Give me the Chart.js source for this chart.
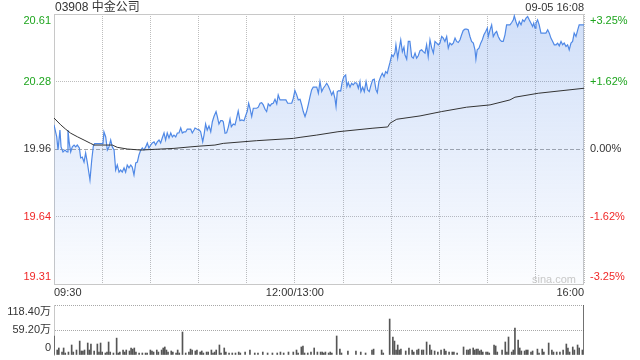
<!DOCTYPE html>
<html>
<head>
<meta charset="utf-8">
<script src="https://cdn.jsdelivr.net/npm/chart.js@4.4.0/dist/chart.umd.min.js"></script>
<style>
  html, body { margin: 0; padding: 0; background: #fff; }
  #wrap { position: relative; width: 640px; height: 360px; overflow: hidden;
          font-family: Arial, "Liberation Sans", "Noto Sans CJK SC", sans-serif; }
  .txt { position: absolute; line-height: 14px; color: #333; white-space: nowrap; }
  #priceBox { position: absolute; left: 0; top: 0; width: 640px; height: 300px; }
  #volBox { position: absolute; left: 0; top: 296px; width: 640px; height: 64px; }
</style>
</head>
<body>
<div id="wrap">
  <div id="priceBox"><canvas id="priceChart" width="640" height="300"></canvas></div>
  <div id="volBox"><canvas id="volChart" width="640" height="64"></canvas></div>
  <div class="txt" style="left:55px; top:0; font-size:12px;">03908 中金公司</div>
  <div class="txt" style="right:56px; top:0; font-size:11px;">09-05 16:08</div>
  <div class="txt" style="left:532px; top:272px; font-size:11px; color:#c8c8c8;">sina.com</div>
</div>
<script>
// minutes since 09:30 (lunch break removed), price in HKD
var priceMinutes = [
  0, 1.7, 2.5, 3.7, 4.4, 5.6, 6.8, 8.1, 8.7, 9.5, 10.4, 11.4, 12.5, 13.5, 14.5, 15.8, 16.6, 17.6, 18.7, 19.7,
  20.7, 22.4, 23.5, 24.5, 25.3, 30.5, 31.1, 32.2, 33.2, 34.2, 35.3, 36.3, 37.4, 38.4, 39.4, 40.5, 41.5, 42.5, 43.6, 44.6,
  45.6, 46.7, 47.8, 48.7, 49.8, 50.9, 51.9, 52.9, 54.0, 55.0, 56.0, 57.1, 58.1, 59.1, 60.2, 61.2, 62.3, 63.3, 64.3, 65.4,
  66.4, 67.4, 68.5, 69.5, 70.5, 71.6, 72.7, 73.7, 74.7, 75.8, 76.8, 77.8, 78.9, 79.9, 80.9, 82.0, 83.0, 85.1, 86.1, 87.2,
  87.8, 89.2, 90.5, 91.3, 92.6, 93.4, 94.4, 95.4, 96.5, 97.6, 98.6, 99.6, 100.9, 101.7, 102.7, 103.8, 104.8, 105.4, 106.5, 107.5,
  108.5, 109.6, 110.4, 111.6, 112.7, 113.7, 114.7, 115.8, 116.9, 118.3, 119.5, 120.3, 121.2, 122.0, 123.1, 124.1, 125.1, 126.2, 127.2, 128.3,
  129.3, 130.3, 131.4, 132.4, 133.4, 134.5, 135.5, 136.5, 137.6, 138.7, 139.6, 140.7, 141.8, 142.8, 144.4, 145.5, 146.9, 148.0, 149.0, 150.0,
  151.1, 152.1, 153.2, 154.2, 155.2, 156.3, 157.3, 158.3, 159.4, 160.4, 161.4, 162.5, 163.6, 164.6, 165.6, 166.7, 167.7,
  168.7, 169.8, 170.8, 171.8, 172.9, 173.9, 174.9, 175.6, 176.4, 177.4, 178.5, 179.5, 180.5, 181.6, 182.4, 183.2, 184.3, 185.3, 186.3, 187.4,
  188.5, 189.5, 190.5, 191.1, 192.2, 193.2, 194.3, 195.3, 196.3, 197.4, 198.4, 199.4, 200.5, 201.3, 202.3, 203.4, 204.4, 205.5, 206.5, 207.5,
  208.1, 209.2, 210.3, 211.2, 212.3, 212.9, 214.0, 214.8, 215.9, 216.9, 217.9, 218.5, 219.6, 220.6, 221.6, 222.7, 223.7, 224.8, 225.8, 226.8,
  227.9, 228.9, 229.9, 231.0, 232.0, 233.0, 234.1, 235.2, 236.2, 237.2, 238.3, 239.3, 240.3, 241.4, 242.4, 243.4, 244.5, 245.5, 246.5, 247.6,
  248.6, 249.7, 250.7, 251.7, 252.8, 253.8, 254.8, 255.9,
  256.9, 257.9, 259.0, 260.0, 261.1, 262.1, 262.7, 263.5, 264.6, 265.7, 266.7, 267.7, 268.8, 269.8, 270.4, 271.5, 272.5, 273.5, 274.6, 275.6,
  276.6, 277.7, 278.7, 279.7, 280.8, 281.8, 282.8, 283.9, 285.0, 286.0, 286.6, 287.6, 288.7, 289.7, 290.8, 291.8, 292.8, 293.9, 294.9, 295.9,
  297.0, 298.0, 298.7, 299.5, 300.1, 301.1, 302.1, 303.2, 304.3, 305.3, 306.3, 307.4, 308.4, 309.4, 310.5, 311.5, 312.6, 313.6, 314.6, 315.7,
  316.7, 317.7, 318.8, 319.8, 320.8, 321.9, 322.9, 323.9, 325.0, 326.1, 327.0, 328.1, 330
];
var prices = [
  20.076, 20.018, 19.955, 20.051, 19.970, 19.946, 19.955, 19.946, 20.051, 19.989, 19.946, 19.970, 19.979, 19.970, 19.979, 19.965, 19.917, 19.921, 19.897, 19.941,
  19.897, 19.811, 19.907, 19.975, 19.986, 19.986, 20.042, 20.018, 19.955, 19.970, 20.003, 19.970, 19.955, 19.859, 19.883, 19.849, 19.859, 19.849, 19.869, 19.849,
  19.883, 19.869, 19.883, 19.873, 19.835, 19.893, 19.897, 19.931, 19.955, 19.965, 19.955, 19.970, 19.989, 19.965, 19.979, 19.989, 19.994, 19.979, 19.994, 20.003,
  19.989, 20.013, 20.037, 20.003, 20.037, 20.013, 20.037, 20.018, 20.027, 20.018, 20.037, 20.037, 20.061, 20.037, 20.042, 20.042, 20.056, 20.056, 20.037, 20.051,
  20.061, 20.055, 20.051, 20.043, 19.995, 20.027, 20.080, 20.051, 20.071, 20.043, 20.091, 20.116, 20.140, 20.116, 20.080, 20.096, 20.096, 20.091, 20.036, 20.038,
  20.064, 20.103, 20.067, 20.080, 20.076, 20.108, 20.143, 20.096, 20.100, 20.096, 20.124, 20.140, 20.180, 20.156, 20.116, 20.156, 20.156, 20.156, 20.161, 20.180,
  20.183, 20.172, 20.151, 20.140, 20.177, 20.167, 20.177, 20.180, 20.199, 20.177, 20.220, 20.196, 20.196, 20.196, 20.196, 20.180, 20.180, 20.180, 20.204, 20.241,
  20.220, 20.196, 20.199, 20.172, 20.140, 20.116, 20.140, 20.172, 20.212, 20.244, 20.257, 20.257, 20.257, 20.228, 20.284, 20.236, 20.252,
  20.263, 20.276, 20.263, 20.244, 20.220, 20.236, 20.204, 20.164, 20.236, 20.241, 20.239, 20.284, 20.308, 20.316, 20.260, 20.279, 20.257, 20.276, 20.268, 20.279,
  20.276, 20.252, 20.284, 20.236, 20.257, 20.236, 20.284, 20.244, 20.236, 20.268, 20.292, 20.296, 20.244, 20.231, 20.284, 20.308, 20.324, 20.308, 20.332, 20.324,
  20.344, 20.376, 20.413, 20.404, 20.424, 20.461, 20.397, 20.437, 20.485, 20.428, 20.450, 20.413, 20.392, 20.477, 20.477, 20.404, 20.397, 20.421, 20.397, 20.408,
  20.433, 20.437, 20.428, 20.421, 20.461, 20.404, 20.485, 20.445, 20.421, 20.477, 20.469, 20.461, 20.469, 20.501, 20.493, 20.477, 20.501, 20.445, 20.469, 20.461,
  20.469, 20.493, 20.477, 20.472, 20.485, 20.509, 20.530, 20.536,
  20.536, 20.533, 20.501, 20.477, 20.469, 20.437, 20.392, 20.437, 20.445, 20.469, 20.485, 20.509, 20.525, 20.541, 20.501, 20.533, 20.557, 20.501, 20.517, 20.525,
  20.501, 20.485, 20.477, 20.477, 20.509, 20.557, 20.557, 20.557, 20.568, 20.581, 20.600, 20.573, 20.549, 20.573, 20.557, 20.581, 20.573, 20.589, 20.597, 20.581,
  20.565, 20.549, 20.565, 20.541, 20.565, 20.581, 20.557, 20.517, 20.517, 20.517, 20.517, 20.533, 20.517, 20.493, 20.477, 20.461, 20.461, 20.469, 20.456, 20.477,
  20.461, 20.469, 20.453, 20.461, 20.437, 20.469, 20.477, 20.517, 20.501, 20.533, 20.557, 20.557, 20.557
];

// average price line
var avgMinutes = [0, 4.2, 7.3, 10.4, 14.5, 18.7, 22.8, 24.9, 36.3, 39.4, 45.6, 54.0, 64.3, 74.7, 84.7, 90.9, 100.2, 105.4,
  126.2, 149.0, 153.2, 163.6, 176.8, 198.6, 207.8, 209.2, 213.4, 227.9, 241.4, 256.9, 271.5, 283.9, 287.0, 301.5, 330];
var avgPrices = [20.109, 20.076, 20.055, 20.036, 20.019, 20.003, 19.987, 19.979, 19.979, 19.968, 19.960, 19.955, 19.959, 19.963,
  19.970, 19.974, 19.979, 19.987, 20.000, 20.011, 20.016, 20.027, 20.043, 20.060, 20.066, 20.084, 20.103, 20.119, 20.140,
  20.161, 20.172, 20.196, 20.209, 20.228, 20.252];

// volume, in 万 shares
var volMinutes = [
  0, 2, 3, 5, 6, 7, 9, 11, 12, 14, 16, 17, 18, 19, 21, 22, 23, 25, 27, 28,
  29, 30, 32, 33, 34, 35, 37, 39, 40, 41, 43, 44, 45, 47, 48, 49, 50, 51, 53, 55,
  57, 58, 60, 61, 62, 64, 65, 67, 68, 69, 70, 71, 73, 74, 76, 77, 78, 80, 82, 84,
  85, 86, 88, 89, 91, 92, 93, 95, 96, 98, 99, 100, 101, 103, 104, 106, 107, 109, 111, 113,
  115, 116, 119, 122, 125, 127, 130, 133, 136, 139, 141, 143, 146, 149, 151, 152, 154, 155, 156, 158,
  160, 162, 164, 166, 167, 168, 169, 171, 172, 173, 176, 178, 179, 183, 188, 191, 194, 198, 199, 204,
  205, 209, 211, 212, 213, 214, 215, 216, 219, 221, 223, 224, 226, 227, 229, 230, 232, 234, 235, 237,
  239, 241, 243, 244, 246, 248, 249, 251, 255, 257, 258, 259, 261, 262, 263, 264, 265, 266, 267, 269,
  270, 271, 274, 275, 276, 279, 281, 282, 283, 285, 286, 287, 289, 290, 291, 293, 294, 295, 297, 298,
  301, 302, 304, 305, 308, 310, 311, 313, 315, 317, 319, 320, 321, 323, 324, 326, 327, 329, 330
];
var volumes = [
  45, 11.8, 16.6, 7, 16.6, 4.7, 7, 23.7, 7, 11.8, 33, 9.5, 9.5, 11.8, 28.4, 11.8, 26, 9.5, 26, 7,
  28.4, 7, 4.7, 7, 30.8, 7, 4.7, 40, 4.7, 7, 11.8, 7, 11.8, 9.5, 16.6, 14, 16.6, 7, 4.7, 4.7,
  4.7, 4.7, 11.8, 9.5, 7, 11.8, 7, 11.8, 16.6, 19, 11.8, 7, 9.5, 7, 4.7, 11.8, 4.7, 54.5, 4.7, 7,
  14, 11.8, 9.5, 11.8, 7, 9.5, 4.7, 7, 7, 11.8, 4.7, 7, 11.8, 23.7, 4.7, 16.6, 7, 4.7, 4.7, 4.7,
  7, 4.7, 7, 11.8, 4.7, 4.7, 7, 4.7, 4.7, 4.7, 7, 4.7, 7, 7, 11.8, 4.7, 19, 21.3, 4.7, 4.7,
  7, 16.6, 7, 7, 7, 4.7, 7, 4.7, 7, 4.7, 45, 14, 4.7, 9.5, 9.5, 7, 4.7, 11.8, 14, 11.8,
  4.7, 85.2, 42.6, 33, 11.8, 23.7, 11.8, 14, 9.5, 16.6, 11.8, 7, 11.8, 14, 11.8, 11.8, 30.8, 23.7, 11.8, 9.5,
  7, 11.8, 14, 9.5, 7, 7, 7, 4.7, 19, 11.8, 11.8, 14, 16.6, 11.8, 14, 14, 9.5, 11.8, 7, 7,
  7, 4.7, 23.7, 21.3, 7, 11.8, 30.8, 7, 42.6, 7, 11.8, 64, 35.5, 16.6, 9.5, 9.5, 11.8, 11.8, 7, 9.5,
  14, 4.7, 14, 7, 28.4, 11.8, 7, 7, 7, 11.8, 26, 16.6, 7, 19, 11.8, 23.7, 16.6, 11.8, 118.4
];

var priceTicks = [19.311, 19.6355, 19.96, 20.2845, 20.609];
var priceTickLabels = ['19.31', '19.64', '19.96', '20.28', '20.61'];
var pctTicks = [-3.25, -1.625, 0, 1.625, 3.25];
var pctTickLabels = ['-3.25%', '-1.62%', '0.00%', '+1.62%', '+3.25%'];
var tickColors = ['#f02828', '#f02828', '#333333', '#1ea51e', '#1ea51e'];
var gridMinutes = [0, 30, 60, 90, 120, 150, 180, 210, 240, 270, 300, 330];
var timeTickMinutes = [0, 150, 330];
var timeTickLabels = ['09:30', '12:00/13:00', '16:00'];
var volTicks = [0, 59.2, 118.4];
var volTickLabels = ['0', '59.20万', '118.40万'];

Chart.defaults.font.family = 'Arial, "Liberation Sans", "Noto Sans CJK SC", sans-serif';
Chart.defaults.font.size = 11;
Chart.defaults.color = '#333';

// push the top/bottom labels inside the plot, like the original
function edgeLabel(text, i, last) {
  if (i === 0) return [text, ''];
  if (i === last) return ['', text];
  return text;
}
function noPad(s) {
  s.paddingTop = 0; s.paddingBottom = 0; s.paddingLeft = 0; s.paddingRight = 0;
}

var frame = {
  id: 'frame',
  beforeDatasetsDraw: function (chart) {
    var a = chart.chartArea, c = chart.ctx;
    c.save();
    c.strokeStyle = '#c8c8c8';
    c.lineWidth = 1;
    c.strokeRect(a.left + 0.5, a.top + 0.5, a.right - a.left - 1, a.bottom - a.top);
    c.restore();
  }
};

var ctx = document.getElementById('priceChart').getContext('2d');
var priceChart = new Chart(ctx, {
  type: 'line',
  data: {
    datasets: [{
      label: 'avg',
      data: avgMinutes.map(function (m, i) { return { x: m, y: avgPrices[i] }; }),
      borderColor: '#333',
      borderWidth: 1,
      pointRadius: 0,
      fill: false,
      order: 1
    }, {
      label: 'price',
      data: priceMinutes.map(function (m, i) { return { x: m, y: prices[i] }; }),
      borderColor: '#5089e6',
      borderWidth: 1.2,
      pointRadius: 0,
      fill: 'start',
      backgroundColor: function (context) {
        var a = context.chart.chartArea;
        if (!a) return 'rgba(76,132,230,0.2)';
        var g = context.chart.ctx.createLinearGradient(0, a.top, 0, a.bottom);
        g.addColorStop(0, 'rgba(76,132,230,0.26)');
        g.addColorStop(1, 'rgba(76,132,230,0.02)');
        return g;
      },
      order: 2
    }]
  },
  options: {
    responsive: false,
    animation: false,
    devicePixelRatio: 1,
    layout: { padding: { top: 14, left: 0, right: 0, bottom: 0 } },
    plugins: { legend: { display: false }, tooltip: { enabled: false } },
    scales: {
      x: {
        type: 'linear', min: 0, max: 330,
        afterBuildTicks: function (s) { s.ticks = gridMinutes.map(function (v) { return { value: v }; }); },
        afterFit: function (s) { s.height = 16; noPad(s); },
        grid: { color: '#bdbdbd', lineWidth: 1, drawTicks: false },
        border: { display: false, dash: [1, 1] },
        ticks: {
          autoSkip: false, maxRotation: 0, align: 'inner', padding: 2,
          callback: function (v) {
            var i = timeTickMinutes.indexOf(v);
            return i >= 0 ? timeTickLabels[i] : '';
          }
        }
      },
      y: {
        position: 'left', min: priceTicks[0], max: priceTicks[4],
        afterBuildTicks: function (s) { s.ticks = priceTicks.map(function (v) { return { value: v }; }); },
        afterFit: function (s) { s.width = 54; noPad(s); },
        grid: { drawTicks: false, lineWidth: 1, color: function (c) { return c.index === 2 ? '#a8a8a8' : '#bdbdbd'; } },
        border: { display: false, dash: function (c) { return c.index === 2 ? [4, 2] : [1, 1]; } },
        ticks: {
          autoSkip: false, padding: 3,
          color: function (c) { return tickColors[c.index]; },
          callback: function (v, i) { return edgeLabel(priceTickLabels[i], i, 4); }
        }
      },
      y2: {
        position: 'right', min: pctTicks[0], max: pctTicks[4],
        afterBuildTicks: function (s) { s.ticks = pctTicks.map(function (v) { return { value: v }; }); },
        afterFit: function (s) { s.width = 56; noPad(s); },
        grid: { display: false, drawTicks: false },
        border: { display: false },
        ticks: {
          autoSkip: false, padding: 6,
          color: function (c) { return tickColors[c.index]; },
          callback: function (v, i) { return edgeLabel(pctTickLabels[i], i, 4); }
        }
      }
    }
  },
  plugins: [frame]
});

var vctx = document.getElementById('volChart').getContext('2d');
var volChart = new Chart(vctx, {
  type: 'bar',
  data: {
    datasets: [{
      label: 'volume',
      data: volMinutes.map(function (m, i) { return { x: m, y: volumes[i] }; }),
      backgroundColor: '#555',
      barThickness: 1
    }]
  },
  options: {
    responsive: false,
    animation: false,
    devicePixelRatio: 1,
    layout: { padding: { top: 9, left: 0, right: 56, bottom: 5 } },
    plugins: { legend: { display: false }, tooltip: { enabled: false } },
    scales: {
      x: { type: 'linear', min: 0, max: 330, offset: false, display: false },
      y: {
        min: 0, max: 118.4,
        afterBuildTicks: function (s) { s.ticks = volTicks.map(function (v) { return { value: v }; }); },
        afterFit: function (s) { s.width = 54; noPad(s); },
        grid: { drawTicks: false, lineWidth: 1, color: function (c) { return c.index === 0 ? 'rgba(0,0,0,0)' : '#a8a8a8'; } },
        border: { display: true, color: '#c8c8c8', width: 1, dash: [1, 1] },
        ticks: {
          autoSkip: false, padding: 3,
          callback: function (v, i) { return edgeLabel(volTickLabels[i], i, 2); }
        }
      }
    }
  }
});
</script>
</body>
</html>
